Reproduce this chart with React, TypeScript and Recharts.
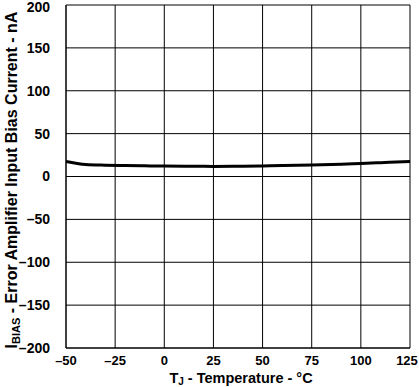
import { LineChart, Line, XAxis, YAxis, CartesianGrid } from 'recharts';

const temps = [-50, -45, -40, -30, -20, -10, 0, 10, 25, 40, 50, 60, 75, 90, 100, 110, 125];
const biasCurrent = [17.5, 15.5, 14, 13.2, 12.8, 12.4, 12.2, 12, 11.8, 12, 12.3, 12.7, 13.3, 14.3, 15.2, 16.1, 17.5];
const xTicks = [-50, -25, 0, 25, 50, 75, 100, 125];
const yTicks = [-200, -150, -100, -50, 0, 50, 100, 150, 200];

const data = temps.map((t, i) => ({ t, v: biasCurrent[i] }));

const FONT = '"Liberation Sans", Arial, sans-serif';
const fmt = (v: number) => (v < 0 ? `\u2013${Math.abs(v)}` : `${v}`);

// keep the end labels inside the 419x387 frame
function XTick({ x, y, payload }: any) {
  const dx = payload.value === 125 ? -3 : 0;
  return (
    <text x={x + dx} y={y} dy="0.71em" textAnchor="middle" fontFamily={FONT} fontWeight="bold" fontSize={13} fill="#000">
      {fmt(payload.value)}
    </text>
  );
}

function YTick({ x, y, payload }: any) {
  const dy = payload.value === 200 ? 2 : 0;
  return (
    <text x={x} y={y + dy} dy="0.355em" textAnchor="end" fontFamily={FONT} fontWeight="bold" fontSize={14} fill="#000">
      {fmt(payload.value)}
    </text>
  );
}

function YLabel() {
  return (
    <text
      transform="translate(17, 180) rotate(-90)"
      textAnchor="middle"
      fontFamily={FONT}
      fontWeight="bold"
      fontSize={16}
      fill="#000"
    >
      I<tspan fontSize={11} dy={3}>BIAS</tspan>
      <tspan dy={-3}> - Error Amplifier Input Bias Current - nA</tspan>
    </text>
  );
}

function XLabel() {
  return (
    <text x={241} y={383} textAnchor="middle" fontFamily={FONT} fontWeight="bold" fontSize={14.5} fill="#000">
      T<tspan fontSize={10} dy={2}>J</tspan>
      <tspan dy={-2}> - Temperature - °C</tspan>
    </text>
  );
}

export default function App() {
  return (
    <div style={{ position: 'absolute', left: 0, top: 0, width: 419, height: 387, background: '#fff' }}>
      <LineChart width={419} height={387} data={data} margin={{ top: 5, right: 9, left: 0, bottom: 0 }}>
        <CartesianGrid stroke="#000" strokeWidth={1} />
        <XAxis
          dataKey="t"
          type="number"
          domain={[-50, 125]}
          ticks={xTicks}
          height={39}
          tickLine={false}
          tickSize={0}
          tickMargin={8}
          stroke="#000"
          tick={<XTick />}
          interval={0}
        />
        <YAxis
          type="number"
          domain={[-200, 200]}
          ticks={yTicks}
          width={66}
          tickLine={false}
          tickSize={0}
          tickMargin={16}
          stroke="#000"
          tick={<YTick />}
          interval={0}
        />
        <Line
          dataKey="v"
          type="monotone"
          stroke="#000"
          strokeWidth={3}
          dot={false}
          isAnimationActive={false}
        />
        <YLabel />
        <XLabel />
      </LineChart>
    </div>
  );
}
